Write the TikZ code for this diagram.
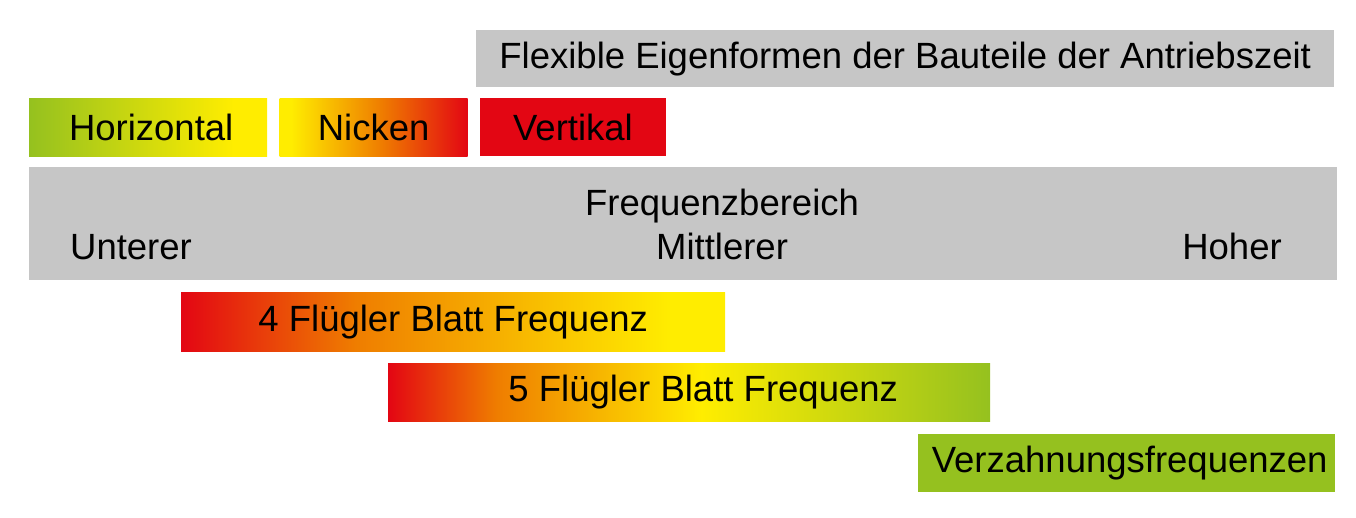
\documentclass[tikz,border=0pt]{standalone}
\usepackage{fontspec}
\setmainfont{Liberation Sans}
\usetikzlibrary{positioning}

\definecolor{barGrey}{RGB}{198,198,198}
\definecolor{barGreen}{RGB}{149,193,31}
\definecolor{barYellow}{RGB}{255,237,0}
\definecolor{barOrange}{RGB}{239,125,0}
\definecolor{barRed}{RGB}{227,6,19}

\pgfdeclarehorizontalshading{horizshade}{100bp}{color(0bp)=(barGreen); color(25bp)=(barGreen); color(68bp)=(barYellow); color(100bp)=(barYellow)}
\pgfdeclarehorizontalshading{nickshade}{100bp}{color(0bp)=(barYellow); color(28bp)=(barYellow); color(52bp)=(barOrange); color(75bp)=(barRed); color(100bp)=(barRed)}
\pgfdeclarehorizontalshading{fourshade}{100bp}{color(0bp)=(barRed); color(25bp)=(barRed); color(41bp)=(barOrange); color(70bp)=(barYellow); color(100bp)=(barYellow)}
\pgfdeclarehorizontalshading{fiveshade}{100bp}{color(0bp)=(barRed); color(25bp)=(barRed); color(34bp)=(barOrange); color(51bp)=(barYellow); color(75bp)=(barGreen); color(100bp)=(barGreen)}

\begin{document}
\begin{tikzpicture}[x=1pt, y=-1pt,
    bar/.style={rectangle, inner sep=0pt, anchor=north west, minimum height=58pt, text=black, font=\fontsize{36.5}{40}\selectfont},
    lbl/.style={inner sep=0pt, anchor=base, text=black, font=\fontsize{36.5}{40}\selectfont},
    node distance = 12pt]
          \useasboundingbox (0,0) rectangle (1356,517);
          \node[bar, fill=barGrey, minimum width=858pt, minimum height=57pt] (eigen) at (476,30) {Flexible Eigenformen der Bauteile der Antriebszeit};
          \node[bar, shading=horizshade, minimum width=238pt] (horiz) at (29,98) {\hspace{6pt}Horizontal};
          \node[bar, shading=nickshade, minimum width=188pt] (nick) [right = of horiz] {Nicken};
          \node[bar, fill=barRed, minimum width=186pt] (vert) [right = of nick] {Vertikal};
          \node[bar, fill=barGrey, minimum width=1308pt, minimum height=113pt] (range) at (29,167) {};
          \node[lbl] (rangetitle) at (722,215) {Frequenzbereich};
          \node[lbl] (low)  at (131,259) {Unterer};
          \node[lbl] (mid)  at (722,259) {Mittlerer};
          \node[lbl] (high) at (1232,259) {Hoher};
          \node[bar, shading=fourshade, minimum width=544pt, minimum height=59pt] (four) at (181,292) {4 Flügler Blatt Frequenz};
          \node[bar, shading=fiveshade, minimum width=602pt] (five) at (388,363) {\hspace{28pt}5 Flügler Blatt Frequenz};
          \node[bar, fill=barGreen, minimum width=417pt] (gear) at (918,434) {\hspace{6pt}Verzahnungsfrequenzen};
\end{tikzpicture}
\end{document}
